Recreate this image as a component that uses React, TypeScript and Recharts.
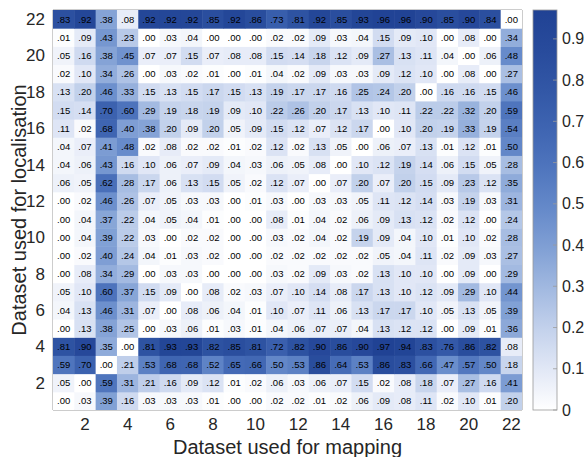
import { ScatterChart, Scatter, XAxis, YAxis, ReferenceArea, Label } from "recharts";

// mapping datasets (columns) and tick labels
const mappingDatasets = [1, 2, 3, 4, 5, 6, 7, 8, 9, 10, 11, 12, 13, 14, 15, 16, 17, 18, 19, 20, 21, 22];
const axisTicks = [2, 4, 6, 8, 10, 12, 14, 16, 18, 20, 22];
const colorbarTicks = [0, 0.1, 0.2, 0.3, 0.4, 0.5, 0.6, 0.7, 0.8, 0.9];
const colorMax = 0.97;

// one array per localisation dataset (row), values across mapping datasets 1..22
const loc22 = [0.83, 0.92, 0.38, 0.08, 0.92, 0.92, 0.92, 0.85, 0.92, 0.86, 0.73, 0.81, 0.92, 0.85, 0.93, 0.96, 0.96, 0.9, 0.85, 0.9, 0.84, 0.0];
const loc21 = [0.01, 0.09, 0.43, 0.23, 0.0, 0.03, 0.04, 0.0, 0.0, 0.0, 0.02, 0.02, 0.09, 0.03, 0.04, 0.15, 0.09, 0.1, 0.0, 0.08, 0.0, 0.34];
const loc20 = [0.05, 0.16, 0.38, 0.45, 0.07, 0.07, 0.15, 0.07, 0.08, 0.08, 0.15, 0.14, 0.18, 0.12, 0.09, 0.27, 0.13, 0.11, 0.04, 0.0, 0.06, 0.48];
const loc19 = [0.02, 0.1, 0.34, 0.26, 0.0, 0.03, 0.02, 0.01, 0.0, 0.01, 0.04, 0.02, 0.09, 0.03, 0.03, 0.09, 0.12, 0.1, 0.0, 0.08, 0.0, 0.27];
const loc18 = [0.13, 0.2, 0.46, 0.33, 0.15, 0.13, 0.15, 0.17, 0.15, 0.13, 0.19, 0.17, 0.17, 0.16, 0.25, 0.24, 0.2, 0.0, 0.16, 0.16, 0.15, 0.46];
const loc17 = [0.15, 0.14, 0.7, 0.6, 0.29, 0.19, 0.18, 0.19, 0.09, 0.1, 0.22, 0.26, 0.2, 0.17, 0.13, 0.1, 0.11, 0.22, 0.22, 0.32, 0.2, 0.59];
const loc16 = [0.11, 0.02, 0.68, 0.4, 0.38, 0.2, 0.09, 0.2, 0.05, 0.09, 0.15, 0.12, 0.07, 0.12, 0.17, 0.0, 0.1, 0.2, 0.19, 0.33, 0.19, 0.54];
const loc15 = [0.04, 0.07, 0.41, 0.48, 0.02, 0.08, 0.02, 0.02, 0.01, 0.02, 0.12, 0.02, 0.13, 0.05, 0.0, 0.06, 0.07, 0.13, 0.01, 0.12, 0.01, 0.5];
const loc14 = [0.04, 0.06, 0.43, 0.16, 0.1, 0.06, 0.07, 0.09, 0.04, 0.03, 0.06, 0.05, 0.08, 0.0, 0.1, 0.12, 0.19, 0.14, 0.06, 0.15, 0.05, 0.28];
const loc13 = [0.06, 0.05, 0.62, 0.28, 0.17, 0.06, 0.13, 0.15, 0.05, 0.02, 0.12, 0.07, 0.0, 0.07, 0.2, 0.07, 0.2, 0.15, 0.09, 0.23, 0.12, 0.35];
const loc12 = [0.0, 0.02, 0.46, 0.26, 0.07, 0.05, 0.03, 0.03, 0.0, 0.01, 0.03, 0.0, 0.03, 0.03, 0.05, 0.11, 0.12, 0.14, 0.03, 0.19, 0.03, 0.31];
const loc11 = [0.0, 0.04, 0.37, 0.22, 0.04, 0.05, 0.04, 0.01, 0.0, 0.0, 0.08, 0.01, 0.04, 0.02, 0.06, 0.09, 0.13, 0.12, 0.02, 0.12, 0.0, 0.24];
const loc10 = [0.0, 0.04, 0.39, 0.22, 0.03, 0.0, 0.02, 0.02, 0.0, 0.0, 0.03, 0.02, 0.04, 0.02, 0.19, 0.09, 0.04, 0.1, 0.01, 0.1, 0.02, 0.28];
const loc9 = [0.0, 0.02, 0.4, 0.24, 0.04, 0.01, 0.03, 0.02, 0.0, 0.0, 0.02, 0.02, 0.02, 0.02, 0.02, 0.05, 0.04, 0.11, 0.02, 0.09, 0.03, 0.27];
const loc8 = [0.0, 0.08, 0.34, 0.29, 0.0, 0.03, 0.03, 0.0, 0.0, 0.0, 0.03, 0.02, 0.09, 0.03, 0.02, 0.13, 0.1, 0.1, 0.0, 0.09, 0.0, 0.29];
const loc7 = [0.05, 0.1, 0.6, 0.37, 0.15, 0.09, 0.0, 0.08, 0.02, 0.03, 0.07, 0.1, 0.14, 0.08, 0.17, 0.13, 0.1, 0.12, 0.09, 0.29, 0.1, 0.44];
const loc6 = [0.04, 0.13, 0.46, 0.31, 0.07, 0.0, 0.08, 0.06, 0.04, 0.01, 0.1, 0.07, 0.11, 0.06, 0.13, 0.17, 0.17, 0.1, 0.05, 0.13, 0.05, 0.39];
const loc5 = [0.0, 0.13, 0.38, 0.25, 0.0, 0.03, 0.06, 0.01, 0.03, 0.01, 0.04, 0.06, 0.07, 0.07, 0.04, 0.13, 0.12, 0.12, 0.0, 0.09, 0.01, 0.36];
const loc4 = [0.81, 0.9, 0.35, 0.0, 0.81, 0.93, 0.93, 0.82, 0.85, 0.81, 0.72, 0.82, 0.9, 0.86, 0.9, 0.97, 0.94, 0.83, 0.76, 0.86, 0.82, 0.08];
const loc3 = [0.59, 0.7, 0.0, 0.21, 0.53, 0.68, 0.68, 0.52, 0.65, 0.66, 0.5, 0.53, 0.86, 0.64, 0.53, 0.86, 0.83, 0.66, 0.47, 0.57, 0.5, 0.18];
const loc2 = [0.05, 0.0, 0.59, 0.31, 0.21, 0.16, 0.09, 0.12, 0.01, 0.02, 0.06, 0.03, 0.06, 0.07, 0.15, 0.02, 0.08, 0.18, 0.07, 0.27, 0.16, 0.41];
const loc1 = [0.0, 0.03, 0.39, 0.16, 0.03, 0.03, 0.03, 0.01, 0.0, 0.0, 0.02, 0.02, 0.01, 0.02, 0.06, 0.09, 0.08, 0.11, 0.02, 0.1, 0.01, 0.2];

const localisationRows = [loc1, loc2, loc3, loc4, loc5, loc6, loc7, loc8, loc9, loc10, loc11, loc12, loc13, loc14, loc15, loc16, loc17, loc18, loc19, loc20, loc21, loc22];

const W = 587;
const H = 457;
const margin = { top: 10, right: 65, left: 0, bottom: 0 };
const yAxisWidth = 53;
const xAxisHeight = 47;
const plotW = W - margin.left - margin.right - yAxisWidth;
const plotH = H - margin.top - margin.bottom - xAxisHeight;
const cellW = plotW / mappingDatasets.length;
const cellH = plotH / localisationRows.length;

const stops: [number, number[]][] = [
  [0, [255, 255, 255]],
  [0.1, [226, 232, 246]],
  [0.2, [196, 210, 236]],
  [0.3, [163, 186, 225]],
  [0.4, [130, 161, 213]],
  [0.5, [102, 138, 202]],
  [0.6, [80, 118, 190]],
  [0.7, [63, 101, 178]],
  [0.8, [50, 87, 166]],
  [0.9, [40, 75, 156]],
  [1, [32, 66, 148]],
];

function colorAt(v: number) {
  const t = Math.max(0, Math.min(1, v / colorMax));
  for (let i = 1; i < stops.length; i++) {
    if (t <= stops[i][0]) {
      const [t0, c0] = stops[i - 1];
      const [t1, c1] = stops[i];
      const f = (t - t0) / (t1 - t0);
      const c = c0.map((a, k) => Math.round(a + (c1[k] - a) * f));
      return `rgb(${c[0]},${c[1]},${c[2]})`;
    }
  }
  return "rgb(32,66,148)";
}

const cells = localisationRows.flatMap((row, r) =>
  row.map((v, c) => ({ x: mappingDatasets[c], y: r + 1, v }))
);

const fmt = (v: number) => v.toFixed(2).replace(/^0/, "");

const font = "'Liberation Sans', Arial, Helvetica, sans-serif";

function HeatCell(props: any) {
  const { cx, cy, payload } = props;
  return (
    <g>
      <rect x={cx - cellW / 2} y={cy - cellH / 2} width={cellW + 0.5} height={cellH + 0.5} fill={colorAt(payload.v)} />
      <text x={cx} y={cy} textAnchor="middle" dominantBaseline="central" fontSize={9.5} fill="#000" fontFamily={font}>
        {fmt(payload.v)}
      </text>
    </g>
  );
}

function XTitle(props: any) {
  const vb = props.viewBox;
  return (
    <text x={vb.x + vb.width / 2} y={vb.y + vb.height - 3} textAnchor="middle" fontSize={20} fill="#262626" fontFamily={font}>
      Dataset used for mapping
    </text>
  );
}

function YTitle(props: any) {
  const vb = props.viewBox;
  const cx = 19;
  const cy = vb.y + vb.height / 2;
  return (
    <text x={cx} y={cy} transform={`rotate(-90 ${cx} ${cy})`} textAnchor="middle" dominantBaseline="central" fontSize={20} fill="#262626" fontFamily={font}>
      Dataset used for localisation
    </text>
  );
}

function Colorbar() {
  const x = 533;
  const y = margin.top;
  const w = 24;
  const h = plotH;
  const pos = (v: number) => y + h - (v / colorMax) * h;
  return (
    <svg width={W} height={H} style={{ position: "absolute", left: 0, top: 0, pointerEvents: "none" }}>
      <defs>
        <linearGradient id="cbar" x1="0" y1="1" x2="0" y2="0">
          {stops.map(([t, c]) => (
            <stop key={t} offset={t} stopColor={`rgb(${c[0]},${c[1]},${c[2]})`} />
          ))}
        </linearGradient>
      </defs>
      <rect x={x} y={y} width={w} height={h} fill="url(#cbar)" stroke="#9a9a9a" strokeWidth={0.8} />
      {colorbarTicks.map((t) => (
        <g key={t}>
          <line x1={x + w - 4} x2={x + w} y1={pos(t)} y2={pos(t)} stroke="#9a9a9a" strokeWidth={0.8} />
          <text x={x + w + 5} y={pos(t)} dominantBaseline="central" fontSize={16} fill="#262626" fontFamily={font}>
            {t === 0 ? "0" : t.toFixed(1)}
          </text>
        </g>
      ))}
    </svg>
  );
}

export default function App() {
  return (
    <div style={{ position: "fixed", left: 0, top: 0, width: W, height: H, background: "#fff" }}>
      <ScatterChart width={W} height={H} margin={margin}>
        <XAxis
          type="number"
          dataKey="x"
          domain={[0.5, 22.5]}
          ticks={axisTicks}
          allowDataOverflow
          height={xAxisHeight}
          tickLine={false}
          axisLine={false}
          tick={{ fontSize: 17, fill: "#262626", fontFamily: font }}
        >
          <Label content={XTitle} />
        </XAxis>
        <YAxis
          type="number"
          dataKey="y"
          domain={[0.5, 22.5]}
          ticks={axisTicks}
          allowDataOverflow
          width={yAxisWidth}
          tickLine={false}
          axisLine={false}
          tick={{ fontSize: 17, fill: "#262626", fontFamily: font }}
        >
          <Label content={YTitle} />
        </YAxis>
        <Scatter data={cells} shape={HeatCell} isAnimationActive={false} />
        <ReferenceArea x1={0.5} x2={22.5} y1={0.5} y2={22.5} fill="none" stroke="#9a9a9a" strokeWidth={1} ifOverflow="visible" />
      </ScatterChart>
      <Colorbar />
    </div>
  );
}
